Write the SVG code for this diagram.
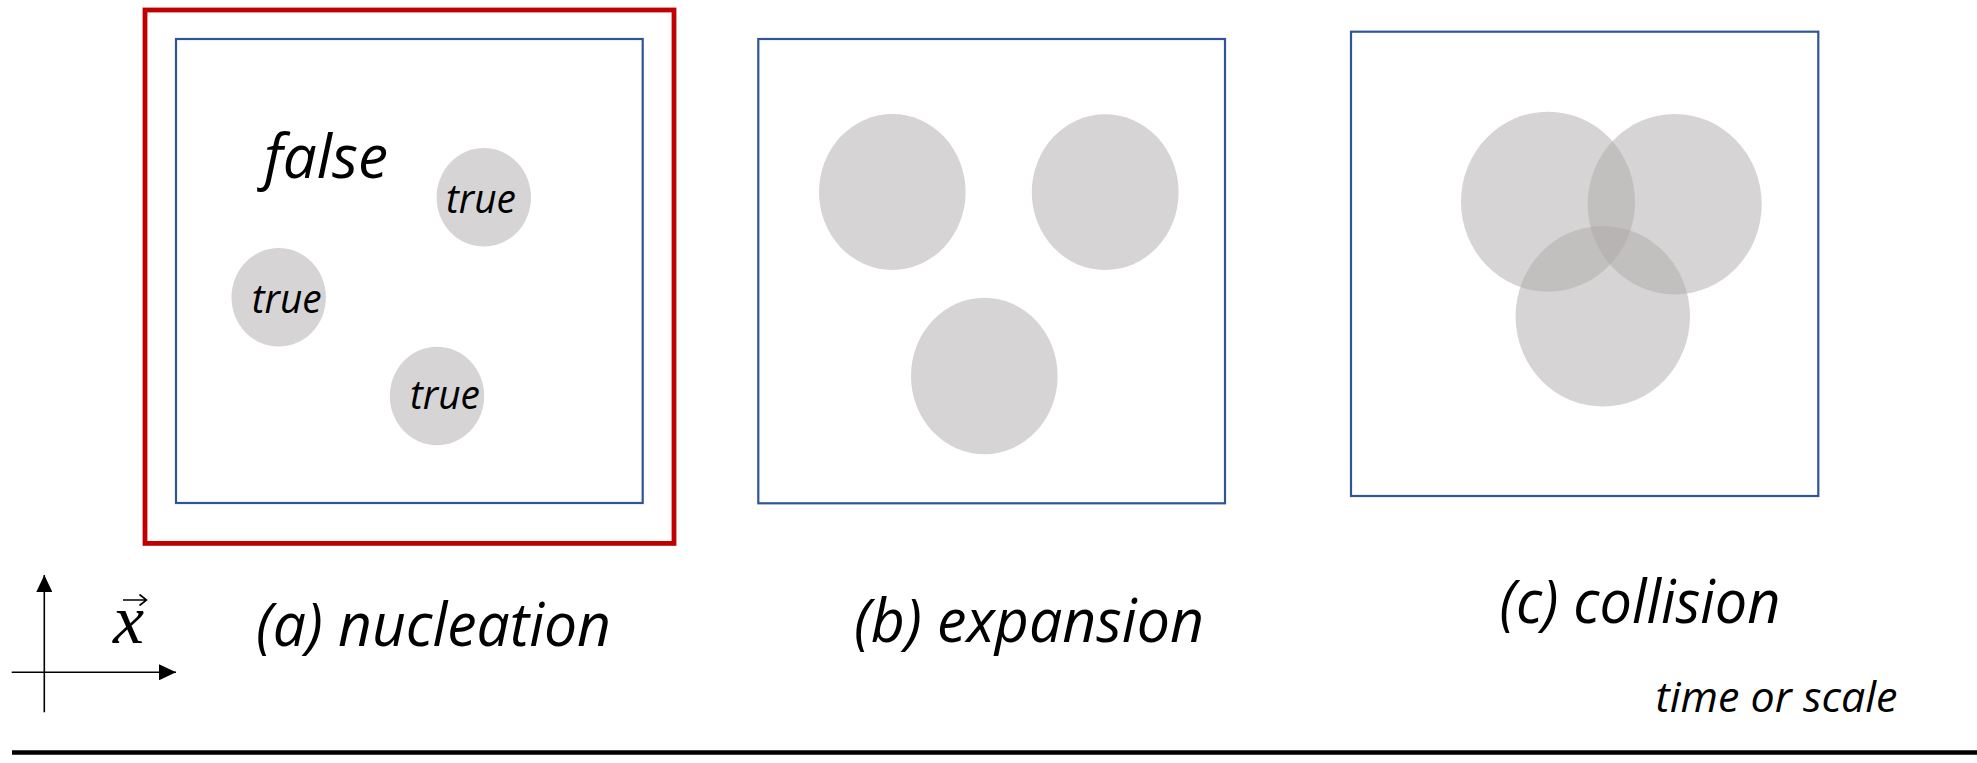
<svg xmlns="http://www.w3.org/2000/svg" width="1977" height="763" viewBox="0 0 1977 763">
  <defs>
    <style>
      .frame { fill: none; stroke: #2F5597; stroke-width: 2.2; }
      .highlight { fill: none; stroke: #C00000; stroke-width: 4.8; }
      .bubble { fill: #D6D4D5; }
      .bubble-t { fill: #ADA9AA; fill-opacity: 0.5; }
      .it { font-family: "Open Sans", "Liberation Sans", sans-serif; font-style: italic; fill: #000; }
      .label { font-size: 60px; }
      .state { font-size: 41px; }
      .axis { stroke: #000; stroke-width: 1.6; fill: none; }
    </style>
    <marker id="head" markerUnits="userSpaceOnUse" markerWidth="17" markerHeight="16" refX="17" refY="8" orient="auto">
      <path d="M0,0 L17,8 L0,16 z" fill="#000"/>
    </marker>
  </defs>

  <rect width="1977" height="763" fill="#fff"/>

  <!-- (a) nucleation: selected stage, highlighted in red -->
  <g id="panel-a">
    <rect class="highlight" x="145" y="10" width="529" height="533.4"/>
    <rect class="frame" x="176" y="39" width="466.7" height="464"/>
    <text class="it label" x="264" y="178.3" textLength="124" lengthAdjust="spacingAndGlyphs">false</text>
    <ellipse class="bubble" cx="483.8" cy="197.3" rx="47.2" ry="49.3"/>
    <ellipse class="bubble" cx="278.7" cy="297.3" rx="47.2" ry="49.3"/>
    <ellipse class="bubble" cx="437" cy="396" rx="47.2" ry="49.3"/>
    <text class="it state" x="446" y="213.3" textLength="70" lengthAdjust="spacingAndGlyphs">true</text>
    <text class="it state" x="251.7" y="313.3" textLength="70" lengthAdjust="spacingAndGlyphs">true</text>
    <text class="it state" x="410" y="409.3" textLength="70" lengthAdjust="spacingAndGlyphs">true</text>
  </g>

  <!-- (b) expansion -->
  <g id="panel-b">
    <rect class="frame" x="758.3" y="39" width="466.7" height="464.3"/>
    <ellipse class="bubble" cx="892.3" cy="192" rx="73.3" ry="78"/>
    <ellipse class="bubble" cx="1105.2" cy="192.2" rx="73.4" ry="77.9"/>
    <ellipse class="bubble" cx="984.3" cy="376" rx="73.3" ry="78.2"/>
  </g>

  <!-- (c) collision: translucent bubbles so overlaps darken -->
  <g id="panel-c">
    <rect class="frame" x="1351" y="31.7" width="467.3" height="464.3"/>
    <ellipse class="bubble-t" cx="1548" cy="201.7" rx="87" ry="90"/>
    <ellipse class="bubble-t" cx="1674.7" cy="204.2" rx="87" ry="90.2"/>
    <ellipse class="bubble-t" cx="1602.8" cy="316.3" rx="87.2" ry="90.3"/>
  </g>

  <!-- stage captions -->
  <g id="captions">
    <text class="it label" x="256" y="646" textLength="355" lengthAdjust="spacingAndGlyphs">(a) nucleation</text>
    <text class="it label" x="854" y="641.7" textLength="350" lengthAdjust="spacingAndGlyphs">(b) expansion</text>
    <text class="it label" x="1499.5" y="623.3" textLength="281" lengthAdjust="spacingAndGlyphs">(c) collision</text>
    <text class="it" x="1655.5" y="711.7" font-size="42" textLength="242" lengthAdjust="spacingAndGlyphs">time or scale</text>
  </g>

  <!-- coordinate axes -->
  <g id="connectors">
    <line class="axis" x1="44.3" y1="712.3" x2="44.3" y2="575" marker-end="url(#head)"/>
    <line class="axis" x1="11.7" y1="672.3" x2="176" y2="672.3" marker-end="url(#head)"/>
  </g>

  <!-- position vector symbol -->
  <g id="x-vector">
    <text x="113" y="643" font-family="Liberation Serif, serif" font-style="italic" font-size="70">x</text>
    <path class="axis" d="M123,600 L146,600 M139.5,594.5 L146.5,600 L139.5,605.5"/>
  </g>

  <!-- time axis rule -->
  <g id="timeline">
    <line x1="12" y1="752.5" x2="1977" y2="752.5" stroke="#000" stroke-width="4.5"/>
  </g>
</svg>
